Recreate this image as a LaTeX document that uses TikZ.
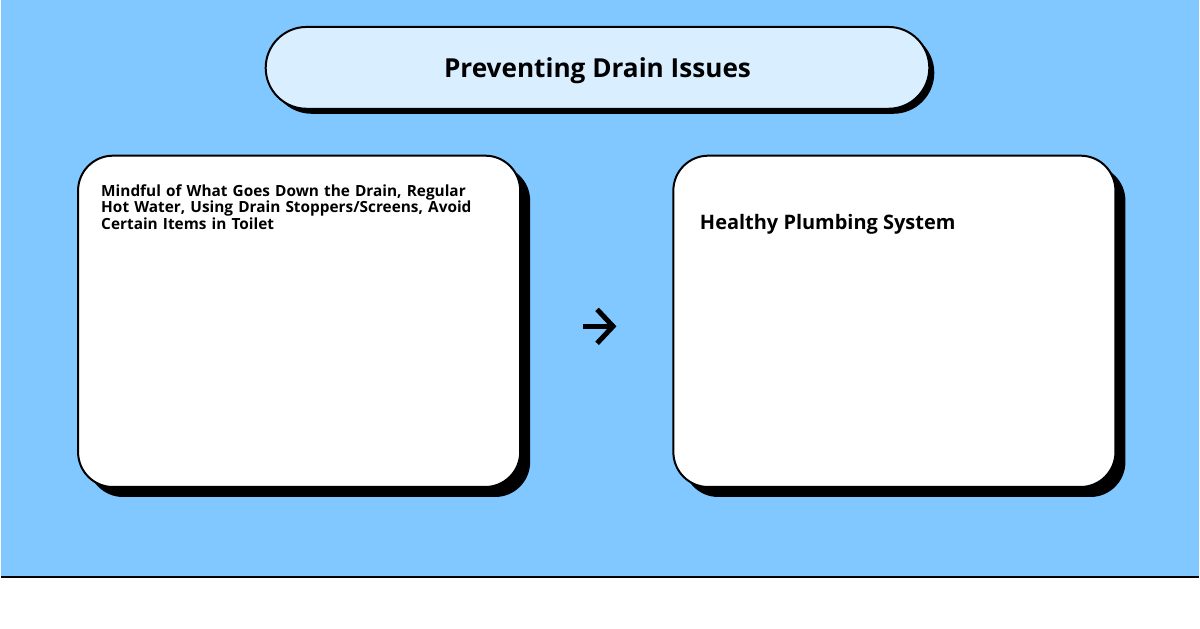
\documentclass[tikz,border=0pt]{standalone}
\usepackage{fontspec}
\setmainfont{Open Sans}
\usepackage{tikz}
\usetikzlibrary{arrows.meta, positioning, shadows}
\definecolor{skyblue}{RGB}{128, 200, 255}
\definecolor{paleblue}{RGB}{217, 238, 255}

\begin{document}
\begin{tikzpicture}[
    x=1pt, y=-1pt,
    banner/.style={rectangle, rounded corners=41pt, draw=black, fill=paleblue,
                   line width=2pt, minimum width=665pt, minimum height=82pt,
                   text depth=0pt,
                   drop shadow={shadow xshift=5pt, shadow yshift=-5pt, fill=black, opacity=1},
                   font=\fontsize{26.2}{30}\selectfont\bfseries},
    card/.style={rectangle, rounded corners=35pt, draw=black, fill=white,
                 line width=2pt, minimum width=443pt, minimum height=332pt,
                 drop shadow={shadow xshift=10pt, shadow yshift=-10pt, fill=black, opacity=1}},
    cardtext/.style={inner sep=0pt, align=left},
    arrow/.style={-{Straight Barb[length=16pt, width=34pt]}, line width=5pt}
]
    % Background and floor line
    \fill[skyblue] (0,0) rectangle (1200,578);
    \fill[white] (0,578) rectangle (1200,630);
    \draw[line width=2.5pt] (0,578) -- (1200,578);
    \useasboundingbox (0,0) rectangle (1200,630);

    % Title
    \node[banner] (title) at (597.5, 68) {Preventing Drain Issues};

    % Cards
    \node[card] (cause) at (298.5, 322) {};
    \node[card] (effect) at (895, 322) {};

    % Card texts
    \node[cardtext, anchor=north west, text width=420pt,
          font=\fontsize{15.4}{15}\selectfont\bfseries] (causetext)
          at ([xshift=24pt, yshift=-30pt]cause.north west)
          {Mindful of What Goes Down the Drain, Regular\\Hot Water, Using Drain Stoppers/Screens, Avoid\\Certain Items in Toilet};
    \node[cardtext, anchor=base west, font=\fontsize{20}{24}\selectfont\bfseries] (effecttext)
          at (700, 230) {Healthy Plumbing System};

    % Arrow between cards
    \draw[arrow, shorten <=62pt, shorten >=56pt]
        ([yshift=-5pt]cause.east) -- ([yshift=-5pt]effect.west);
\end{tikzpicture}
\end{document}
